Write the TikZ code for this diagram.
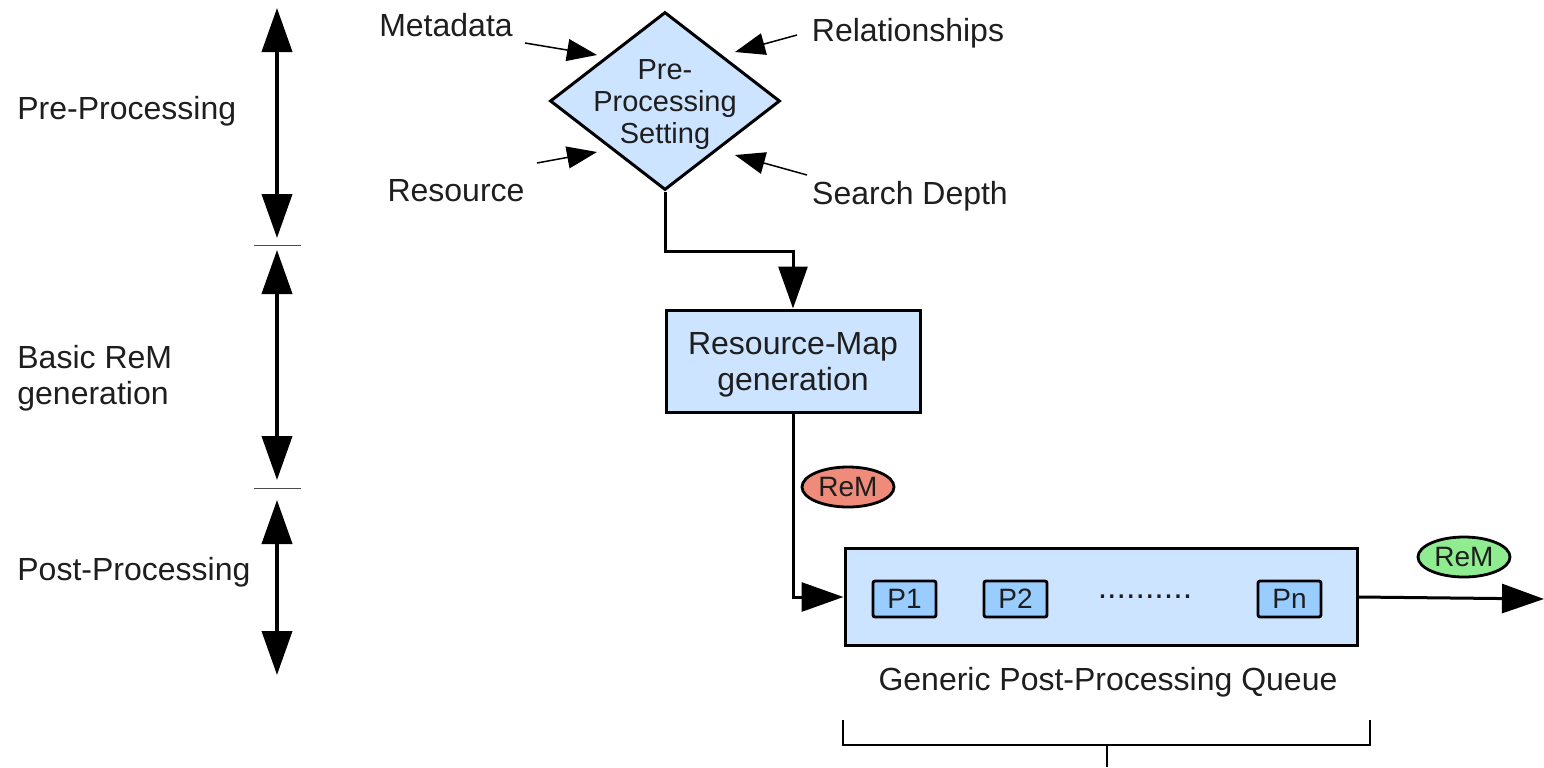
\documentclass[tikz,border=0pt]{standalone}
\usepackage{fontspec}
\setmainfont{Liberation Sans}
\usepackage{tikz}
\usetikzlibrary {arrows.meta,
                 positioning,
                 shapes.geometric}
\definecolor{boxblue}{RGB}{204,228,255}
\definecolor{procblue}{RGB}{153,204,255}
\definecolor{remred}{RGB}{238,139,122}
\definecolor{remgreen}{RGB}{144,236,144}
\definecolor{inkgrey}{RGB}{30,30,30}
\tikzset{
    lbl/.style={text=inkgrey, inner sep=0pt, font=\fontsize{16}{18}\selectfont},
        base/.style={draw, line width=1.5pt, fill=boxblue, text=inkgrey,
                     font=\fontsize{16}{18}\selectfont},
        proc/.style={base, rectangle, minimum width=127pt, minimum height=51pt,
                     align=center},
        test/.style={base, diamond, inner sep=0pt, minimum width=115pt,
                     minimum height=89pt},
        pbox/.style={base, fill=procblue, rounded corners=1pt, line width=1.4pt,
                     minimum width=31.5pt, minimum height=18pt, inner sep=0pt,
                     font=\fontsize{14}{16}\selectfont},
        remtag/.style={draw, ellipse, line width=1.4pt, inner sep=0pt,
                       text=inkgrey, minimum width=46pt, minimum height=20pt,
                       font=\fontsize{14}{16}\selectfont},
        myarrow/.style={-{Triangle[length=21pt, width=14.5pt]}, line width=1.5pt},
        inarrow/.style={-{Triangle[length=15pt, width=11pt]}, line width=0.75pt},
        phase/.style={{Triangle[length=22pt, width=15pt]}-{Triangle[length=22pt, width=15pt]},
                      line width=2pt},
        sep/.style={line width=0.5pt, draw=black!70},
 }

\begin{document}
\begin{tikzpicture}[x=0.5pt, y=-0.5pt]
    \useasboundingbox (0,0) rectangle (1544,767);

    % phases on the left
    \node[lbl, anchor=west] (prelbl) at (17,111) {Pre-Processing};
    \node[lbl, anchor=west, align=left] (basiclbl) at (17,378) {Basic ReM\\generation};
    \node[lbl, anchor=west] (postlbl) at (17,572) {Post-Processing};

    \coordinate (pretop) at (277,8);
    \coordinate (prebot) at (277,238);
    \coordinate (basictop) at (277,250);
    \coordinate (basicbot) at (277,480);
    \coordinate (posttop) at (277,500);
    \coordinate (postbot) at (277,675);
    \draw[phase] (pretop) -- (prebot);
    \draw[phase] (basictop) -- (basicbot);
    \draw[phase] (posttop) -- (postbot);
    \draw[sep] (254,245) -- (301,245);
    \draw[sep] (254,488) -- (301,488);

    % setting
    \node[test] (setting) at (665,101) {};
    \node[lbl, align=center, font=\fontsize{14.5}{16}\selectfont] (settingtxt)
        at (665,105) {Pre-\\Processing\\Setting};

    \node[lbl] (meta) at (446,25) {Metadata};
    \node[lbl] (rel) at (908,33) {Relationships};
    \node[lbl] (res) at (456,191) {Resource};
    \node[lbl] (depth) at (910,196) {Search Depth};

    \coordinate (metatail) at (525,43);
    \coordinate (metatip) at (597,55);
    \coordinate (reltail) at (797,35);
    \coordinate (reltip) at (735,52);
    \coordinate (restail) at (537,163);
    \coordinate (restip) at (597,152);
    \coordinate (depthtail) at (807,175);
    \coordinate (depthtip) at (735,155);
    \draw[inarrow] (metatail) -- (metatip);
    \draw[inarrow] (reltail) -- (reltip);
    \draw[inarrow] (restail) -- (restip);
    \draw[inarrow] (depthtail) -- (depthtip);

    % resource map
    \node[proc] (rmap) at (793,361) {};
    \node[lbl, align=center] (rmaptxt) at (793,365) {Resource-Map\\generation};
    \draw[myarrow] (setting.south) -- ++(0,60) -| (rmap.north);

    % post-processing queue
    \node[base, minimum width=256pt, minimum height=48.5pt] (queue) at (1101,597) {};
    \node[pbox] (p1) at (904.5,599) {P1};
    \node[pbox] (p2) at (1015.5,599) {P2};
    \node[pbox] (pn) at (1289.5,599) {Pn};
    \node[lbl, font=\fontsize{17}{18}\selectfont] (dots) at (1145,597) {..........};
    \node[lbl] (qcap) at (1108,682) {Generic Post-Processing Queue};

    \node[remtag, fill=remred] (remin) at (848,487) {ReM};
    \node[remtag, fill=remgreen] (remout) at (1464,557) {ReM};

    \draw[myarrow] (rmap.south) |- (queue.west);
    \coordinate (outtip) at (1544,599);
    \draw[myarrow] (queue.east) -- (outtip);

    % bracket
    \coordinate (bracketl) at (843,720);
    \coordinate (bracketr) at (1370,720);
    \coordinate (stemtop) at (1107,745);
    \coordinate (stembot) at (1107,767);
    \draw[line width=0.75pt] (bracketl) |- (stemtop) -| (bracketr);
    \draw[line width=0.75pt] (stemtop) -- (stembot);

\end{tikzpicture}
\end{document}
